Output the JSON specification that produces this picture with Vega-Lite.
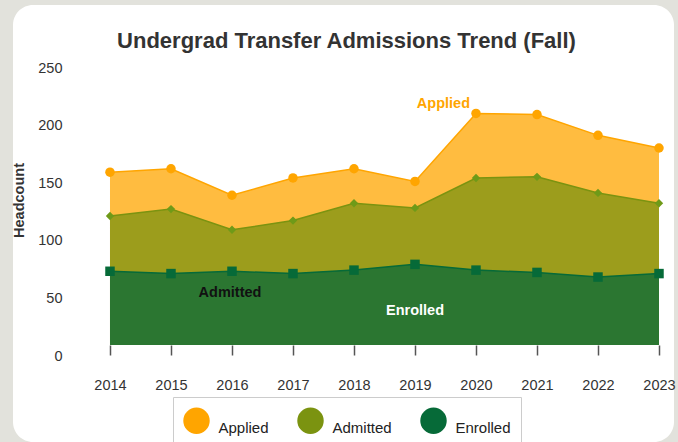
{
  "$schema": "https://vega.github.io/schema/vega-lite/v6.json",
  "width": 661,
  "height": 437,
  "autosize": "none",
  "padding": {"left": 13, "top": 5, "right": 4, "bottom": 0},
  "background": "#e2e2dc",
  "config": {
    "view": {"fill": "white", "stroke": null, "cornerRadius": 20},
    "font": "Liberation Sans"
  },
  "title": {
    "text": "Undergrad Transfer Admissions Trend (Fall)",
    "fontSize": 22,
    "fontWeight": "bold",
    "color": "#333333",
    "anchor": "middle",
    "frame": "group",
    "offset": -48,
    "dx": 3
  },
  "data": {
    "values": [
      {"year": 2014, "series": "Applied", "count": 150},
      {"year": 2015, "series": "Applied", "count": 153},
      {"year": 2016, "series": "Applied", "count": 130},
      {"year": 2017, "series": "Applied", "count": 145},
      {"year": 2018, "series": "Applied", "count": 153},
      {"year": 2019, "series": "Applied", "count": 142},
      {"year": 2020, "series": "Applied", "count": 201},
      {"year": 2021, "series": "Applied", "count": 200},
      {"year": 2022, "series": "Applied", "count": 182},
      {"year": 2023, "series": "Applied", "count": 171},
      {"year": 2014, "series": "Admitted", "count": 112},
      {"year": 2015, "series": "Admitted", "count": 118},
      {"year": 2016, "series": "Admitted", "count": 100},
      {"year": 2017, "series": "Admitted", "count": 108},
      {"year": 2018, "series": "Admitted", "count": 123},
      {"year": 2019, "series": "Admitted", "count": 119},
      {"year": 2020, "series": "Admitted", "count": 145},
      {"year": 2021, "series": "Admitted", "count": 146},
      {"year": 2022, "series": "Admitted", "count": 132},
      {"year": 2023, "series": "Admitted", "count": 123},
      {"year": 2014, "series": "Enrolled", "count": 64},
      {"year": 2015, "series": "Enrolled", "count": 62},
      {"year": 2016, "series": "Enrolled", "count": 64},
      {"year": 2017, "series": "Enrolled", "count": 62},
      {"year": 2018, "series": "Enrolled", "count": 65},
      {"year": 2019, "series": "Enrolled", "count": 70},
      {"year": 2020, "series": "Enrolled", "count": 65},
      {"year": 2021, "series": "Enrolled", "count": 63},
      {"year": 2022, "series": "Enrolled", "count": 59},
      {"year": 2023, "series": "Enrolled", "count": 62}
    ]
  },
  "encoding": {
    "x": {
      "field": "year",
      "type": "quantitative",
      "scale": {"domain": [2012.41, 2023.246], "nice": false, "zero": false},
      "axis": {
        "orient": "bottom",
        "values": [2014, 2015, 2016, 2017, 2018, 2019, 2020, 2021, 2022, 2023],
        "format": "d",
        "domain": false,
        "grid": false,
        "ticks": true,
        "tickSize": 10,
        "tickColor": "#555555",
        "tickWidth": 1.5,
        "labelFontSize": 14.5,
        "labelColor": "#333333",
        "labelPadding": 23,
        "labelFlush": false,
        "labelOverlap": false,
        "offset": -97,
        "title": null
      }
    },
    "y": {
      "field": "count",
      "type": "quantitative",
      "stack": null,
      "scale": {"domain": [-84.2, 295.14], "nice": false, "zero": false},
      "axis": {
        "orient": "left",
        "values": [0, 50, 100, 150, 200, 250],
        "domain": false,
        "ticks": false,
        "grid": false,
        "labelFontSize": 14.5,
        "labelColor": "#333333",
        "labelPadding": 2,
        "labelOffset": 11,
        "labelFlush": false,
        "offset": -51,
        "title": "Headcount",
        "titleFontSize": 14.5,
        "titleFontWeight": "bold",
        "titleColor": "#333333",
        "titleX": -45,
        "titleY": 195,
        "titleAngle": -90,
        "titleAlign": "center",
        "titleBaseline": "middle"
      }
    }
  },
  "layer": [
    {
      "mark": {"type": "area", "fillOpacity": 0.75, "line": {"strokeWidth": 1.5}},
      "encoding": {
        "color": {
          "field": "series",
          "type": "nominal",
          "scale": {"domain": ["Applied", "Admitted", "Enrolled"], "range": ["#FFA500", "#7b9310", "#066a38"]},
          "legend": {
            "orient": "none",
            "legendX": 160,
            "legendY": 392,
            "direction": "horizontal",
            "title": null,
            "symbolType": "circle",
            "symbolSize": 700,
            "symbolOpacity": 1,
            "symbolStrokeWidth": 0,
            "labelFontSize": 15,
            "labelColor": "#222222",
            "labelBaseline": "top",
            "labelOffset": 8.5,
            "columnPadding": 28,
            "padding": 10,
            "strokeColor": "#cccccc",
            "fillColor": "white",
            "encode": {
              "symbols": {
                "update": {
                  "opacity": {"value": 1},
                  "fillOpacity": {"value": 1},
                  "strokeWidth": {"value": 0}
                }
              }
            }
          }
        }
      }
    },
    {
      "transform": [{"filter": "datum.series === 'Applied'"}],
      "mark": {"type": "point", "shape": "circle", "size": 90, "filled": true, "opacity": 1, "color": "#FFA500"}
    },
    {
      "transform": [{"filter": "datum.series === 'Admitted'"}],
      "mark": {"type": "point", "shape": "diamond", "size": 70, "filled": true, "opacity": 1, "color": "#6f9a18"}
    },
    {
      "transform": [{"filter": "datum.series === 'Enrolled'"}],
      "mark": {"type": "point", "shape": "square", "size": 90, "filled": true, "opacity": 1, "color": "#066a38"}
    },
    {
      "data": {"values": [{}]},
      "mark": {"type": "rule", "color": "#555555", "strokeWidth": 1.5},
      "encoding": {"x": {"datum": 2013.5}, "x2": {"datum": 2024.5}, "y": {"datum": 0}}
    },
    {
      "transform": [{"filter": "datum.series === 'Applied' && datum.year === 2020"}],
      "mark": {"type": "text", "text": "Applied", "color": "#FFA500", "fontWeight": "bold", "fontSize": 14.5, "align": "right", "baseline": "middle", "dx": -6, "dy": -9}
    },
    {
      "transform": [{"filter": "datum.series === 'Enrolled' && datum.year === 2016"}],
      "mark": {"type": "text", "text": "Admitted", "color": "#111111", "fontWeight": "bold", "fontSize": 14.5, "align": "center", "baseline": "middle", "dx": -2, "dy": 22}
    },
    {
      "transform": [{"filter": "datum.series === 'Enrolled' && datum.year === 2019"}],
      "mark": {"type": "text", "text": "Enrolled", "color": "white", "fontWeight": "bold", "fontSize": 14.5, "align": "center", "baseline": "middle", "dy": 47}
    }
  ]
}
